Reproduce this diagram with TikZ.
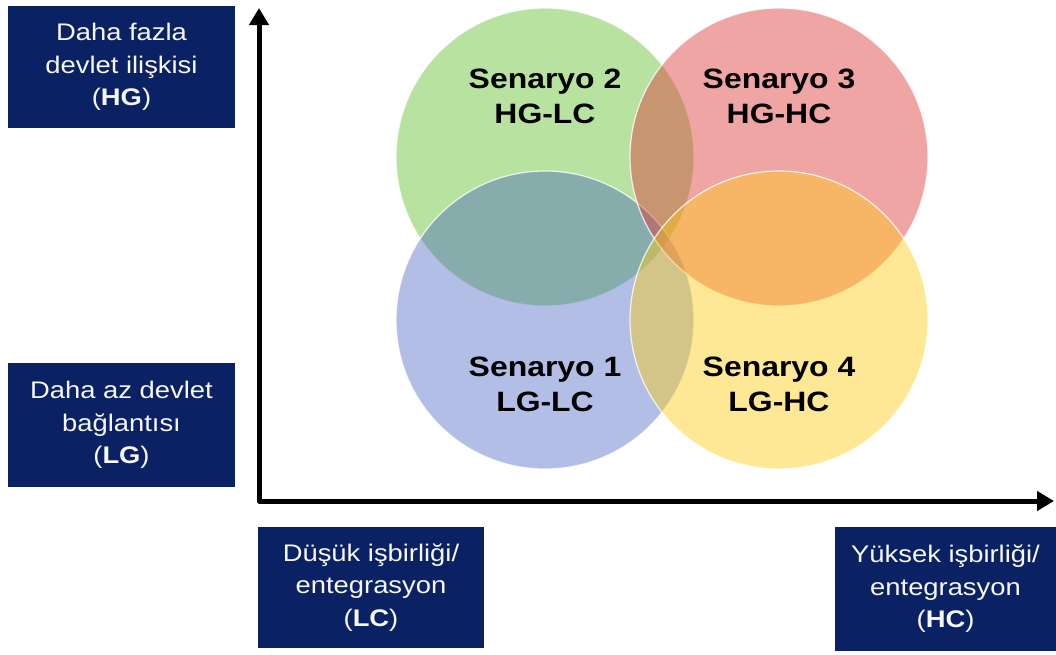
\documentclass[tikz,border=0pt]{standalone}
\usepackage{fontspec}
\setmainfont{Liberation Sans}[FakeStretch=1.14]
\usetikzlibrary{arrows.meta}
\definecolor{boxblue}{RGB}{10,34,100}
\definecolor{scgreen}{RGB}{135,207,97}
\definecolor{scblue}{RGB}{62,92,192}
\definecolor{scred}{RGB}{222,56,56}
\definecolor{scyellow}{RGB}{253,204,22}

\begin{document}
\begin{tikzpicture}[x=1pt, y=-1pt,
    scen/.style={circle, minimum size=298pt, inner sep=0pt,
      draw=white, draw opacity=0.8, line width=1.2pt},
    scenlabel/.style={font=\fontsize{28}{35}\selectfont\bfseries, align=center, text=black},
    axisbox/.style={fill=boxblue, text=white!94!gray, align=center, inner sep=0pt,
      font=\fontsize{24}{32.5}\selectfont},
    axis/.style={line width=5pt, line join=round,
      {Triangle[length=17pt,width=19pt]}-{Triangle[length=17pt,width=19pt]}}]
  \useasboundingbox (0,0) rectangle (1056,654);

  \node[scen, fill=scgreen, fill opacity=0.6] (sc2) at (545,157) {};
  \node[scen, fill=scblue, fill opacity=0.4] (sc1) at (545,320) {};
  \node[scen, fill=scred, fill opacity=0.45] (sc3) at (779,157) {};
  \node[scen, fill=scyellow, fill opacity=0.45] (sc4) at (779,320) {};

  \node[scenlabel] (sc2lbl) at (545,96) {Senaryo 2\\HG-LC};
  \node[scenlabel] (sc3lbl) at (779,96) {Senaryo 3\\HG-HC};
  \node[scenlabel] (sc1lbl) at (545,384) {Senaryo 1\\LG-LC};
  \node[scenlabel] (sc4lbl) at (779,384) {Senaryo 4\\LG-HC};

  \coordinate (ytop) at (259,8);
  \coordinate (xend) at (1054,501);
  \draw[axis] (ytop) |- (xend);

  \node[axisbox, minimum width=227pt, minimum height=122pt] (hg) at (121.5,67)
    {Daha fazla\\devlet ilişkisi\\(\textbf{HG})};
  \node[axisbox, minimum width=227pt, minimum height=124pt] (lg) at (121.5,425)
    {Daha az devlet\\bağlantısı\\(\textbf{LG})};
  \node[axisbox, minimum width=226pt, minimum height=121pt] (lc) at (371,587.5)
    {Düşük işbirliği/\\entegrasyon\\(\textbf{LC})};
  \node[axisbox, minimum width=221pt, minimum height=124pt] (hc) at (945.5,589)
    {Yüksek işbirliği/\\entegrasyon\\(\textbf{HC})};
\end{tikzpicture}
\end{document}
